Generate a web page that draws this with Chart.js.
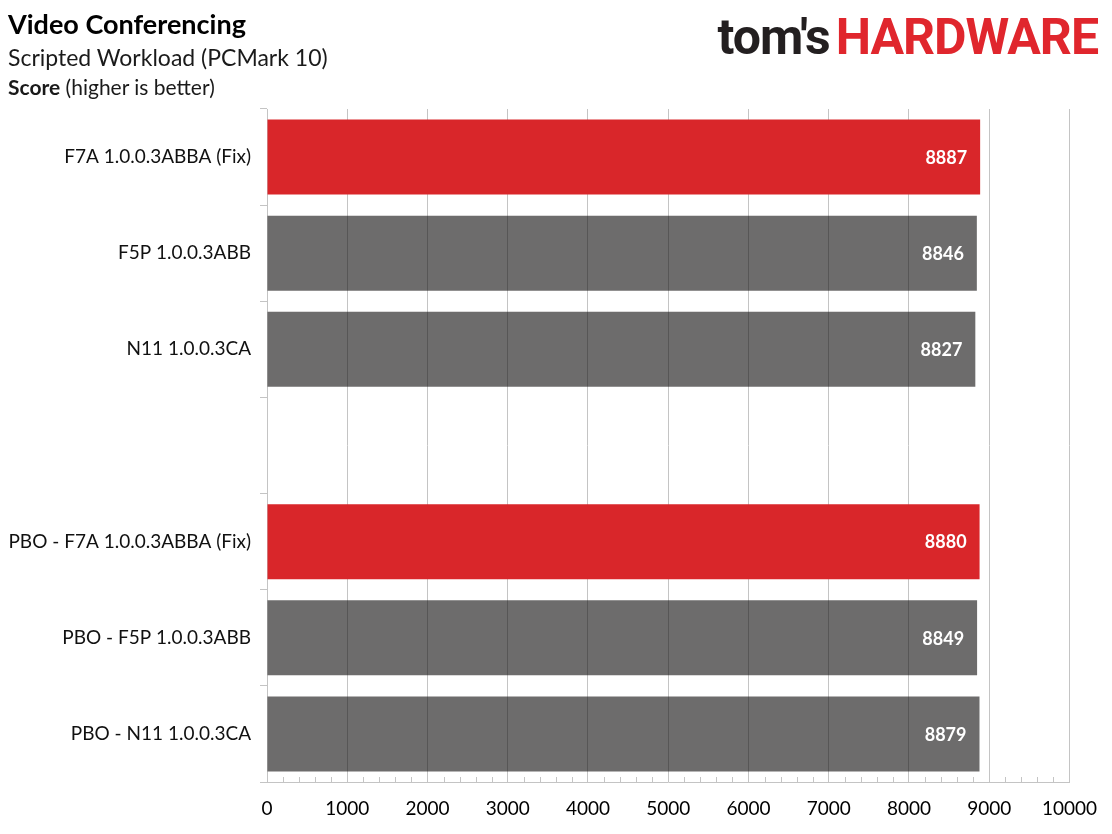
<!DOCTYPE html>
<html>
<head>
<meta charset="utf-8">
<script src="https://cdn.jsdelivr.net/npm/chart.js@4"></script>
<style>
  html, body { margin: 0; padding: 0; background: #fff; }
  #wrap { position: relative; width: 1112px; height: 834px; font-family: Lato, sans-serif; }
  #chartBench { position: absolute; left: 0; top: 0; }
  .t1 { position: absolute; left: 8px; top: 7px; font-size: 27px; font-weight: bold; color: #000; }
  .t2 { position: absolute; left: 8px; top: 43px; font-size: 23px; color: #1a1a1a; }
  .t3 { position: absolute; left: 8px; top: 74px; font-size: 21px; color: #1a1a1a; }
  .logo { position: absolute; right: 14px; top: 8px; font-family: Roboto, sans-serif; font-weight: bold; font-size: 50px; letter-spacing: -1px; white-space: nowrap; }
  .logo .a { color: #231f20; }
  .logo .b { color: #e0262d; margin-left: 6px; }
</style>
</head>
<body>
<div id="wrap">
  <canvas id="chartBench" width="1112" height="834"></canvas>
  <div class="t1">Video Conferencing</div>
  <div class="t2">Scripted Workload (PCMark 10)</div>
  <div class="t3"><b>Score</b> (higher is better)</div>
  <div class="logo"><span class="a">tom's</span><span class="b">HARDWARE</span></div>
</div>
<script>
const labelsConfig = [
  "F7A 1.0.0.3ABBA (Fix)",
  "F5P 1.0.0.3ABB",
  "N11 1.0.0.3CA",
  "",
  "PBO - F7A 1.0.0.3ABBA (Fix)",
  "PBO - F5P 1.0.0.3ABB",
  "PBO - N11 1.0.0.3CA"
];
const nilaiScore = [8887, 8846, 8827, null, 8880, 8849, 8879];
const warnaBar = ["#d9262a", "rgba(20,17,17,0.62)", "rgba(20,17,17,0.62)", "#ffffff",
                  "#d9262a", "rgba(20,17,17,0.62)", "rgba(20,17,17,0.62)"];
const xMin = 0, xMax = 10000, xStep = 1000, xMinor = 200;

const gridColor = "#c4c4c4";

// label angka putih di ujung bar
const labelNilai = {
  id: "labelNilai",
  afterDatasetsDraw(chart) {
    const ctx = chart.ctx;
    const meta = chart.getDatasetMeta(0);
    ctx.save();
    ctx.font = "bold 18px Lato, sans-serif";
    ctx.fillStyle = "#ffffff";
    ctx.textAlign = "right";
    ctx.textBaseline = "middle";
    meta.data.forEach(function (bar, i) {
      if (nilaiScore[i] == null) return;
      ctx.fillText(String(nilaiScore[i]), bar.x - 13, bar.y + 1);
    });
    ctx.restore();
  }
};

// tick kecil di sumbu bawah
const tickMinor = {
  id: "tickMinor",
  afterDraw(chart) {
    const sx = chart.scales.x;
    const ctx = chart.ctx;
    const bottom = chart.chartArea.bottom;
    ctx.save();
    ctx.strokeStyle = gridColor;
    ctx.lineWidth = 1;
    for (let v = xMin; v <= xMax; v += xMinor) {
      if (v % xStep === 0) continue;
      const px = Math.round(sx.getPixelForValue(v)) + 0.5;
      ctx.beginPath();
      ctx.moveTo(px, bottom);
      ctx.lineTo(px, bottom - 5);
      ctx.stroke();
    }
    ctx.restore();
  }
};

new Chart(document.getElementById("chartBench"), {
  type: "bar",
  data: {
    labels: labelsConfig,
    datasets: [{
      data: nilaiScore,
      backgroundColor: warnaBar,
      borderWidth: 0,
      categoryPercentage: 1,
      barPercentage: 0.78
    }]
  },
  options: {
    indexAxis: "y",
    responsive: false,
    animation: false,
    devicePixelRatio: 1,
    layout: { padding: { top: 109, right: 40, left: 0, bottom: 0 } },
    plugins: {
      legend: { display: false },
      tooltip: { enabled: false }
    },
    scales: {
      x: {
        min: xMin,
        max: xMax,
        ticks: {
          stepSize: xStep,
          color: "#000",
          padding: 15,
          font: { family: "Lato, sans-serif", size: 19 },
          callback: function (v) { return String(v); }
        },
        grid: { color: gridColor, drawTicks: false },
        border: { color: gridColor },
        afterFit(scale) { scale.height = 52; }
      },
      y: {
        ticks: {
          color: "#111",
          padding: 9,
          font: { family: "Lato, sans-serif", size: 19 }
        },
        grid: { offset: true, drawOnChartArea: false, tickLength: 7, color: gridColor },
        border: { color: gridColor },
        afterFit(scale) { scale.width = 267; }
      }
    }
  },
  plugins: [labelNilai, tickMinor]
});
</script>
</body>
</html>
